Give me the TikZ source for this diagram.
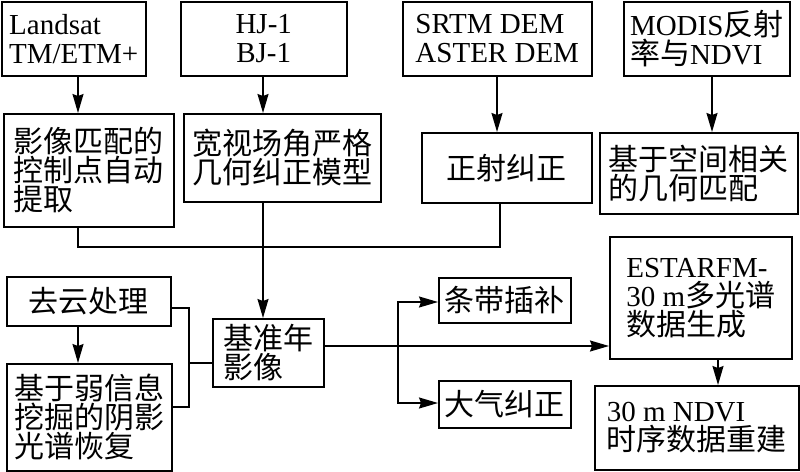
\documentclass[tikz,border=0pt]{standalone}
\usepackage{fontspec}
\setmainfont{Liberation Serif}
\newfontfamily\cjk{Noto Sans CJK SC}
\usetikzlibrary{arrows.meta}
\newcommand\zh[1]{{\cjk\fontsize{30}{29}\selectfont #1}}
\begin{document}
\begin{tikzpicture}[x=1pt,y=-1pt,
  box/.style={draw,line width=1.5pt,anchor=north west,inner sep=0pt,align=left,
    font=\fontsize{29}{29}\selectfont},
  ln/.style={line width=1.5pt},
  arr/.style={ln,-{Stealth[length=19pt,width=11pt,inset=2pt]}}]
\useasboundingbox (0,0) rectangle (800,471);
% top row
\node[box,minimum width=144pt,minimum height=74pt] (landsat) at (1,1) {Landsat\\TM/ETM+};
\node[box,align=center,minimum width=166pt,minimum height=74pt] (hj) at (180,1) {HJ-1\\BJ-1};
\node[box,minimum width=189pt,minimum height=74pt] (srtm) at (402,1) {SRTM DEM\\ASTER DEM};
\node[box,minimum width=166pt,minimum height=74pt] (modis) at (623,1) {MODIS\zh{反射}\\\zh{率与}NDVI};
% second row
\node[box,minimum width=170pt,minimum height=113pt] (match) at (3,113) {\zh{影像匹配的}\\\zh{控制点自动}\\\zh{提取}};
\node[box,minimum width=197pt,minimum height=88pt] (wide) at (183,113) {\zh{宽视场角严格}\\\zh{几何纠正模型}};
\node[box,minimum width=170pt,minimum height=70pt] (ortho) at (421,132) {\zh{正射纠正}};
\node[box,minimum width=198pt,minimum height=81pt] (spatial) at (599,132) {\zh{基于空间相关}\\\zh{的几何匹配}};
% lower part
\node[box,minimum width=164pt,minimum height=49pt] (cloud) at (6,276) {\zh{去云处理}};
\node[box,minimum width=165pt,minimum height=107pt] (weak) at (6,363) {\zh{基于弱信息}\\\zh{挖掘的阴影}\\\zh{光谱恢复}};
\node[box,minimum width=111pt,minimum height=68pt] (base) at (212,318) {\zh{基准年}\\\zh{影像}};
\node[box,minimum width=132pt,minimum height=45pt] (stripe) at (438,277) {\zh{条带插补}};
\node[box,minimum width=132pt,minimum height=47pt] (atmo) at (438,380) {\zh{大气纠正}};
\node[box,minimum width=182pt,minimum height=122pt] (est) at (609,236) {ESTARFM-\\30 m\zh{多光谱}\\\zh{数据生成}};
\node[box,minimum width=204pt,minimum height=84pt] (ndvi) at (594,385) {30 m NDVI\\\zh{时序数据重建}};
% helper coordinates
\coordinate (xa) at (78,0);
\coordinate (xb) at (263,0);
\coordinate (xc) at (497,0);
\coordinate (xd) at (712,0);
\coordinate (xe) at (500,0);
\coordinate (xf) at (718,0);
\coordinate (j1) at (78,247);
\coordinate (j2) at (500,247);
\coordinate (br) at (189,308);
\coordinate (bl) at (189,407);
\coordinate (bm) at (189,363);
\coordinate (sp) at (398,346);
\coordinate (su) at (398,302);
\coordinate (sd) at (398,403);
% arrows top
\draw[arr] (landsat.south -| xa) -- (match.north -| xa);
\draw[arr] (hj.south -| xb) -- (wide.north -| xb);
\draw[arr] (srtm.south -| xc) -- (ortho.north -| xc);
\draw[arr] (modis.south -| xd) -- (spatial.north -| xd);
% collector
\draw[ln] (match.south -| xa) -- (j1) -- (j2) -- (ortho.south -| xe);
\draw[arr] (wide.south -| xb) -- (base.north -| xb);
% left bracket
\draw[arr] (cloud.south -| xa) -- (weak.north -| xa);
\draw[ln] (cloud.east |- br) -- (br) -- (bl) -- (weak.east |- bl);
\draw[ln] (bm) -- (base.west |- bm);
% right
\draw[arr] (base.east |- sp) -- (est.west |- sp);
\draw[arr] (sp) -- (su) -- (stripe.west |- su);
\draw[arr] (sp) -- (sd) -- (atmo.west |- sd);
\draw[arr] (est.south -| xf) -- (ndvi.north -| xf);
\end{tikzpicture}
\end{document}
